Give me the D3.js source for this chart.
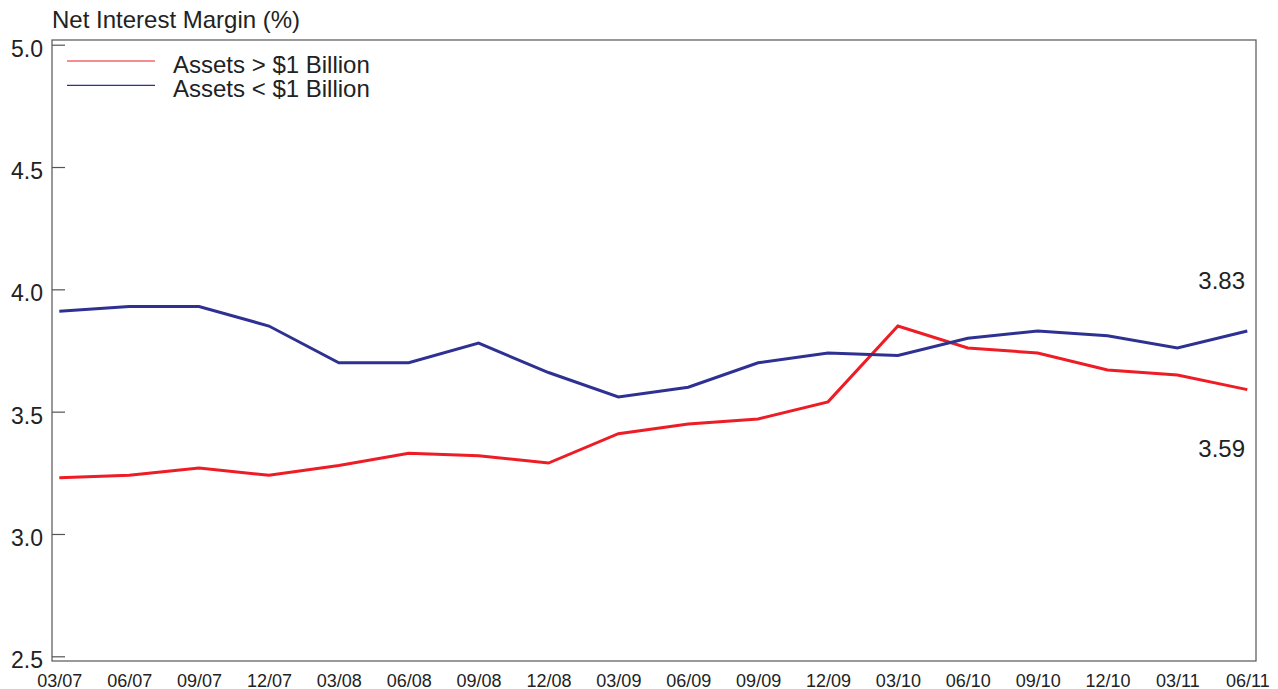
<!DOCTYPE html>
<html><head><meta charset="utf-8">
<script src="https://cdn.jsdelivr.net/npm/d3@7"></script>
<style>body{margin:0;background:#fff;}svg{display:block;font-family:"Liberation Sans",Arial,sans-serif;}</style>
</head><body>
<svg id="c" width="1278" height="689"></svg>
<script>
const categories = ["03/07","06/07","09/07","12/07","03/08","06/08","09/08","12/08","03/09","06/09","09/09","12/09","03/10","06/10","09/10","12/10","03/11","06/11"];
const largeBanks = [3.23,3.24,3.27,3.24,3.28,3.33,3.32,3.29,3.41,3.45,3.47,3.54,3.85,3.76,3.74,3.67,3.65,3.59];
const smallBanks = [3.91,3.93,3.93,3.85,3.70,3.70,3.78,3.66,3.56,3.60,3.70,3.74,3.73,3.80,3.83,3.81,3.76,3.83];
const yTicks = [2.5,3.0,3.5,4.0,4.5,5.0];
const seriesNames = ["Assets > $1 Billion","Assets < $1 Billion"];
const colors = ["#ee1c25","#2e3192"];

const svg = d3.select("#c");
const L=52, R=1256, T=40, B=661;
const x = d3.scalePoint().domain(categories).range([59.3,1247.3]);
const y = d3.scaleLinear().domain([2.5,5.0]).range([656.3,44.7]);

// frame
svg.append("rect").attr("x",L).attr("y",T).attr("width",R-L).attr("height",B-T)
  .attr("fill","none").attr("stroke","#555").attr("stroke-width",1.2);

// y ticks (inside)
const yAxis = svg.append("g").attr("transform",`translate(${L},0)`)
  .call(d3.axisRight(y).tickValues(yTicks).tickSize(13).tickFormat(""));
yAxis.select(".domain").remove();
yAxis.selectAll("line").attr("stroke","#555").attr("stroke-width",1.2);
svg.append("g").selectAll("text").data(yTicks).join("text")
  .attr("x",43).attr("y",d=>y(d)+12).attr("text-anchor","end")
  .attr("font-size",23).attr("fill","#222").text(d=>d.toFixed(1));

// x labels
const xAxis = svg.append("g").attr("transform",`translate(0,${B})`)
  .call(d3.axisBottom(x).tickSize(0).tickPadding(0));
xAxis.select(".domain").remove();
xAxis.selectAll("text").attr("font-size",18).attr("fill","#222").attr("dy",null)
  .attr("y",25.5).attr("font-family","Liberation Sans, Arial, sans-serif");

// lines
const line = d3.line().x((d,i)=>x(categories[i])).y(d=>y(d));
[largeBanks, smallBanks].forEach((s,k)=>{
  svg.append("path").datum(s).attr("d",line).attr("fill","none")
    .attr("stroke",colors[k]).attr("stroke-width",3).attr("stroke-linejoin","miter");
});

// title
svg.append("text").attr("x",52).attr("y",28).attr("font-size",24).attr("fill","#222")
  .text("Net Interest Margin (%)");

// legend
seriesNames.forEach((n,k)=>{
  const yy = 61 + k*24.3;
  svg.append("line").attr("x1",67).attr("x2",155).attr("y1",yy).attr("y2",yy)
    .attr("stroke",colors[k]).attr("stroke-width",1.2);
  svg.append("text").attr("x",173).attr("y",yy+12).attr("font-size",24).attr("fill","#222").text(n);
});

// end annotations
const last = categories.length-1;
svg.append("text").attr("x",1245).attr("y",288.5).attr("text-anchor","end")
  .attr("font-size",24).attr("fill","#222").text(smallBanks[last].toFixed(2));
svg.append("text").attr("x",1245).attr("y",456.5).attr("text-anchor","end")
  .attr("font-size",24).attr("fill","#222").text(largeBanks[last].toFixed(2));
</script>
</body></html>
